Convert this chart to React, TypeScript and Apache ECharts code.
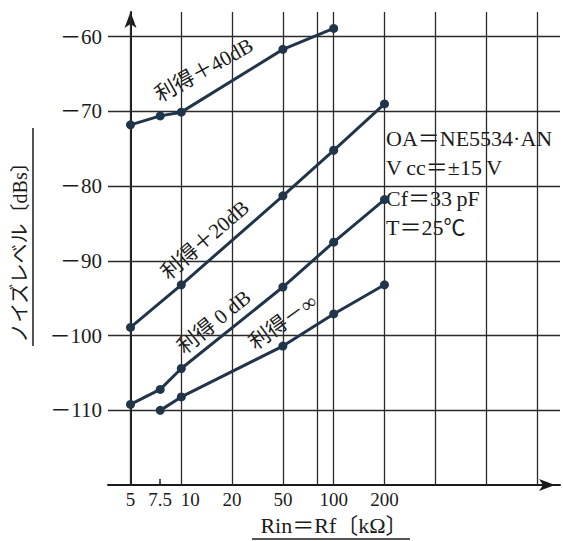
import React, { useEffect, useRef } from 'react';
import * as echarts from 'echarts';

// x tick labels (kΩ) and the 1-2-5 equal-step scale of the drawing
const rinTicks = [5, 7.5, 10, 20, 50, 100, 200];
const stepValues = [5, 10, 20, 50, 100, 200, 500, 1000, 2000];
const gridRin = [5, 10, 20, 50, 80, 100, 200, 500, 1000, 2000];
const yTicks = [-110, -100, -90, -80, -70, -60];

// series
const gain40Rin = [5, 7.5, 10, 50, 100];
const gain40 = [-71.8, -70.6, -70.1, -61.7, -58.9];
const gain20Rin = [5, 10, 50, 100, 200];
const gain20 = [-98.9, -93.2, -81.3, -75.2, -69.0];
const gain0Rin = [5, 7.5, 10, 50, 100, 200];
const gain0 = [-109.2, -107.2, -104.4, -93.5, -87.5, -81.8];
const gainInfRin = [7.5, 10, 50, 100, 200];
const gainInf = [-110.0, -108.2, -101.4, -97.1, -93.2];

const seriesNames = ['利得＋40dB', '利得＋20dB', '利得 0 dB', '利得－∞'];
const infoLines = ['OA＝NE5534·AN', 'V\u2009cc＝±15\u2009V', 'Cf＝33\u2009pF', 'T＝25℃'];

function toAxis(r: number): number {
  const n = stepValues.length;
  for (let i = 0; i < n - 1; i++) {
    const a = stepValues[i];
    const b = stepValues[i + 1];
    if (r <= b || i === n - 2) return i + Math.log(r / a) / Math.log(b / a);
  }
  return 0;
}

const SERIF = '"Liberation Serif", "Noto Sans CJK JP", serif';
const INK = '#1b1b1b';
const LINE = '#20354a';

export default function App() {
  const ref = useRef<HTMLDivElement>(null);
  useEffect(() => {
    if (!ref.current) return;
    const chart = echarts.init(ref.current, null, { renderer: 'svg' });
    const pair = (xs: number[], ys: number[]) => xs.map((x, i) => [toAxis(x), ys[i]]);
    const tickPos = rinTicks.map(toAxis);
    const labelFor = (v: number) => {
      const i = tickPos.findIndex((p) => Math.abs(p - v) < 1e-6);
      if (i < 0) return '';
      const t = String(rinTicks[i]);
      return rinTicks[i] === 10 ? `{s|${t}}` : t;
    };
    const dataSeries = [
      pair(gain40Rin, gain40),
      pair(gain20Rin, gain20),
      pair(gain0Rin, gain0),
      pair(gainInfRin, gainInf),
    ].map((d, i) => ({
      name: seriesNames[i],
      type: 'line',
      data: d,
      z: 5,
      symbol: 'circle',
      symbolSize: 9,
      lineStyle: { color: LINE, width: 3 },
      itemStyle: { color: LINE },
    }));

    const labelText = (text: string, x: number, y: number, deg: number) => ({
      type: 'text',
      x,
      y,
      rotation: (deg * Math.PI) / 180,
      style: {
        text,
        fill: INK,
        font: `21px ${SERIF}`,
        align: 'center',
        verticalAlign: 'middle',
      },
    });

    chart.setOption({
      animation: false,
      grid: { left: 108, right: 3, top: 12, bottom: 53 },
      xAxis: {
        type: 'value',
        min: -0.443,
        max: 8.455,
        name: 'Rin＝Rf〔kΩ〕',
        nameLocation: 'middle',
        nameGap: 26,
        nameTextStyle: { fontFamily: SERIF, fontSize: 22, color: INK },
        axisLine: {
          show: true,
          lineStyle: { color: INK, width: 2 },
          symbol: ['none', 'arrow'],
          symbolSize: [9, 16],
          symbolOffset: [0, -5],
        },
        axisTick: { show: true, inside: true, length: 6, customValues: [toAxis(7.5)], lineStyle: { color: INK, width: 1.5 } },
        axisLabel: {
          customValues: tickPos,
          formatter: (v: number) => labelFor(v),
          fontFamily: SERIF,
          fontSize: 19,
          color: INK,
          margin: 5,
          rich: { s: { fontFamily: SERIF, fontSize: 19, color: INK, padding: [0, 0, 0, 18] } },
        },
        splitLine: { show: false },
      },
      yAxis: {
        type: 'value',
        min: -120,
        max: -56.7,
        name: 'ノイズレベル〔dBs〕',
        nameLocation: 'middle',
        nameRotate: 90,
        nameGap: 78,
        nameTextStyle: { fontFamily: SERIF, fontSize: 20, color: INK, padding: [0, 0, 0, 2] },
        axisLine: {
          show: true,
          lineStyle: { color: INK, width: 2 },
          symbol: ['none', 'arrow'],
          symbolSize: [9, 16],
        },
        axisTick: { show: false },
        axisLabel: {
          customValues: yTicks,
          formatter: (v: number) => '－' + Math.abs(v),
          fontFamily: SERIF,
          fontSize: 21,
          color: INK,
          margin: 6,
        },
        splitLine: { show: false },
      },
      series: [
        {
          type: 'line',
          data: [],
          z: 1,
          silent: true,
          markLine: {
            silent: true,
            symbol: ['none', 'none'],
            label: { show: false },
            lineStyle: { color: '#2a2a2a', width: 1.3, type: 'solid' },
            data: [
              ...gridRin.map((r) => ({ xAxis: toAxis(r) })),
              ...yTicks.map((v) => ({ yAxis: v })),
            ],
          },
        },
        ...dataSeries,
      ],
      graphic: [
        labelText(seriesNames[0], 204, 70, 29),
        labelText(seriesNames[1], 205, 240, 41),
        labelText(seriesNames[2], 214, 322, 39),
        labelText(seriesNames[3], 283, 322, 36),
        ...infoLines.map((t, i) => ({
          type: 'text',
          x: 386,
          y: [138, 167, 198, 227][i],
          style: { text: t, fill: INK, font: `22px ${SERIF}`, align: 'left', verticalAlign: 'middle' },
        })),
        { type: 'line', shape: { x1: 33, y1: 128, x2: 33, y2: 346 }, style: { stroke: INK, lineWidth: 1.5 } },
        { type: 'line', shape: { x1: 252, y1: 539, x2: 410, y2: 539 }, style: { stroke: INK, lineWidth: 1.5 } },
      ],
    });
    return () => chart.dispose();
  }, []);
  return <div ref={ref} style={{ width: 563, height: 541, position: 'absolute', left: 0, top: 0, background: '#fff' }} />;
}
